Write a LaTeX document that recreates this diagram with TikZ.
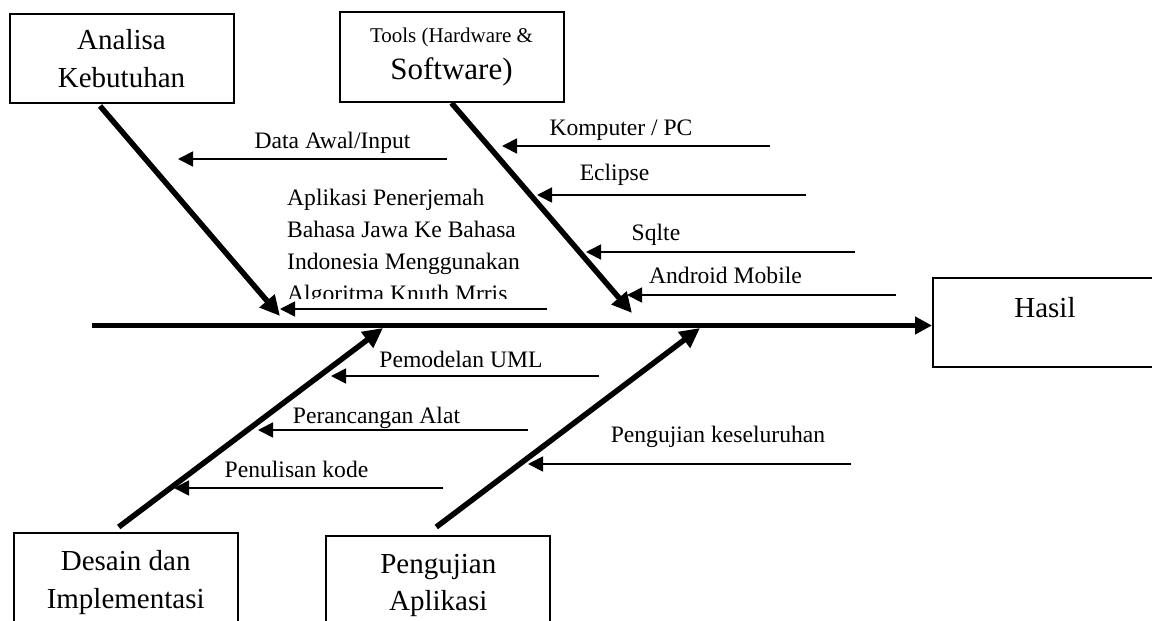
\documentclass[tikz,border=0pt]{standalone}
\usepackage{fontspec}
\setmainfont{Liberation Serif}
\usetikzlibrary{arrows.meta}

\begin{document}
\begin{tikzpicture}[x=1pt, y=-1pt,
    box/.style={draw, line width=2pt, minimum width=224pt, minimum height=89pt, align=center, font=\fontsize{29}{37.5}\selectfont},
    lbl/.style={anchor=base, inner sep=0pt, font=\fontsize{23.6}{32}\selectfont},
    spine/.style={line width=5.5pt, -{Triangle[length=17pt,width=17pt]}},
    bone/.style={line width=5.5pt, -{Triangle[length=20pt,width=19pt]}},
    twig/.style={line width=1.7pt, -{Triangle[length=15pt,width=15pt]}}]
\useasboundingbox (0,0) rectangle (1152,621);
\clip (0,0) rectangle (1152,621);

\node[box] (analisa) at (121.5,58.5) {Analisa\\Kebutuhan};
\node[box, minimum height=90pt, font=\fontsize{31}{37}\selectfont] (tools) at (451.5,57) {{\fontsize{21}{25}\selectfont Tools (Hardware \&}\\Software)};
\node[box, text depth=31pt] (hasil) at (1045,322.5) {Hasil};
\node[box, minimum height=99pt] (desain) at (125.7,582.5) {Desain dan\\Implementasi};
\node[box, minimum height=99pt] (pengujian) at (438.3,585.5) {Pengujian\\Aplikasi};

\coordinate (spinestart) at (92,325.5);
\draw[spine] (spinestart) -- (spinestart -| hasil.west);

\coordinate (analisatip) at (280,316);
\draw[bone] ([xshift=-21.5pt,yshift=-2pt]analisa.south) -- (analisatip);
\coordinate (toolstip) at (632,313);
\draw[bone] (tools.south) -- (toolstip);
\coordinate (desaintip) at (383,328);
\draw[bone] ([xshift=-7pt,yshift=5pt]desain.north) -- (desaintip);
\coordinate (ujitip) at (700,328);
\draw[bone] ([xshift=-2pt,yshift=8pt]pengujian.north) -- (ujitip);

\node[lbl] (datalbl) at (332.5,148) {Data Awal/Input};
\node[lbl] (komplbl) at (621,135) {Komputer / PC};
\node[lbl] (ecllbl) at (614.5,180) {Eclipse};
\node[lbl] (sqllbl) at (656,240) {Sqlte};
\node[lbl] (andlbl) at (725.5,283) {Android Mobile};
\node[lbl] (umllbl) at (461,367) {Pemodelan UML};
\node[lbl] (alatlbl) at (376.5,423) {Perancangan Alat};
\node[lbl] (kodelbl) at (296.5,477) {Penulisan kode};
\node[lbl] (ujilbl) at (718,442) {Pengujian keseluruhan};
\begin{scope}
  \clip (250,150) rectangle (600,298.5);
  \node[lbl, anchor=north west, align=left] (judul) at (287,188.7) {Aplikasi Penerjemah\\Bahasa Jawa Ke Bahasa\\Indonesia Menggunakan\\Algoritma Knuth Mrris};
\end{scope}

\coordinate (datatail) at (447,159);   \coordinate (datatip) at (178,159);
\coordinate (judultail) at (547,309);  \coordinate (judultip) at (280,309);
\coordinate (komptail) at (770,146);   \coordinate (komptip) at (502,146);
\coordinate (ecltail) at (806,195);    \coordinate (ecltip) at (537,195);
\coordinate (sqltail) at (855,252);    \coordinate (sqltip) at (586,252);
\coordinate (andtail) at (896,295);    \coordinate (andtip) at (627,295);
\coordinate (umltail) at (599,376);    \coordinate (umltip) at (331,376);
\coordinate (alattail) at (528,430);   \coordinate (alattip) at (258,430);
\coordinate (kodetail) at (443,488);   \coordinate (kodetip) at (174,488);
\coordinate (ujitail) at (851,464);    \coordinate (ujiarrtip) at (528,464);
\draw[twig] (datatail) -- (datatip);
\draw[twig] (judultail) -- (judultip);
\draw[twig] (komptail) -- (komptip);
\draw[twig] (ecltail) -- (ecltip);
\draw[twig] (sqltail) -- (sqltip);
\draw[twig] (andtail) -- (andtip);
\draw[twig] (umltail) -- (umltip);
\draw[twig] (alattail) -- (alattip);
\draw[twig] (kodetail) -- (kodetip);
\draw[twig] (ujitail) -- (ujiarrtip);
\end{tikzpicture}
\end{document}
